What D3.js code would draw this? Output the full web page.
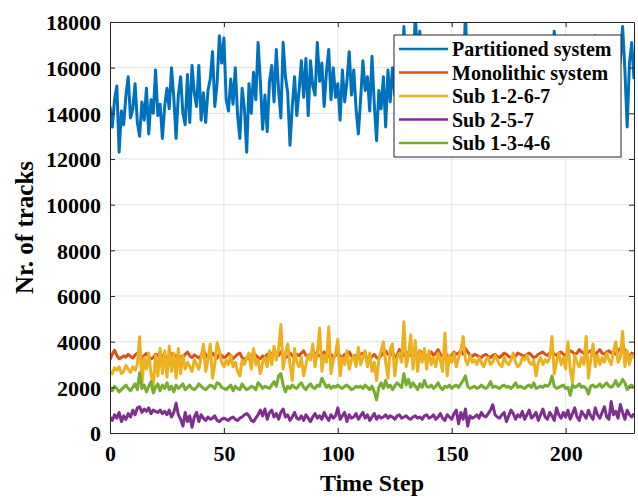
<!DOCTYPE html>
<html>
<head>
<meta charset="utf-8">
<script src="https://cdnjs.cloudflare.com/ajax/libs/d3/7.8.5/d3.min.js"></script>
<style>
  body { margin: 0; background: #fff; }
  text { font-family: "Liberation Serif", "Times New Roman", serif; font-weight: bold; fill: #000; }
</style>
</head>
<body>
<script>
// data, one value per time step (0..230)
var partitioned = [
  14300, 13400, 14600, 15200, 12300, 14100, 13500, 14800, 15600, 13800,
  14200, 15300, 13600, 13000, 14500, 13700, 15100, 13100, 14600, 14000,
  15900, 13900, 14400, 12900, 14300, 15100, 14200, 16000, 14700, 12900,
  14800, 15600, 14000, 13500, 15700, 13600, 16100, 14900, 14300, 16100,
  13700, 14900, 13600, 15000, 15500, 16700, 14300, 15300, 17400, 16200,
  17300, 14600, 14100, 15500, 14400, 16000, 13900, 12900, 15100, 14200,
  12300, 15300, 14000, 15800, 14600, 17100, 15400, 13300, 14800, 13200,
  15400, 16100, 14500, 16800, 15000, 13800, 17100, 15600, 14900, 12600,
  14300, 15600, 13900, 15000, 16300, 14700, 16400, 13900, 16300, 15200,
  14800, 17100, 15400, 16200, 14300, 15800, 16800, 14600, 16000, 14700,
  15300, 13700, 15900, 14500, 15400, 16700, 14800, 15900, 14200, 13100,
  14600, 16300, 15000, 15600, 14100, 16500, 14400, 12800, 15000, 14200,
  15600, 13400, 15900, 14500, 16000, 14800, 15400, 16200, 14700, 17800,
  15300, 16100, 14600, 15800, 18300, 16500, 17600, 14900, 15700, 16200,
  14800, 15900, 16600, 14700, 15300, 16400, 15000, 15800, 14400, 16300,
  15100, 16700, 14900, 15600, 16200, 15000, 18400, 15400, 16000, 14800,
  15900, 15200, 16500, 14700, 15800, 16100, 15000, 16400, 15300, 14900,
  16200, 15500, 14600, 16800, 15200, 15900, 14700, 16300, 15400, 16000,
  14900, 16600, 15100, 15700, 14500, 16200, 15600, 14800, 16500, 15300,
  15900, 14700, 16400, 15100, 16000, 17600, 15000, 15800, 14600, 16300,
  15400, 16100, 14900, 15600, 16700, 15200, 14800, 16400, 15500, 16000,
  14700, 16200, 15300, 17400, 15100, 15800, 14900, 16500, 15300, 16000,
  15200, 16400, 14800, 15700, 16300, 17800, 15900, 13400, 16200, 17100,
  15500
];
var monolithic = [
  3200, 3450, 3620, 3400, 3250, 3300, 3380, 3320, 3450, 3350,
  3280, 3420, 3500, 3350, 3250, 3400, 3480, 3320, 3250, 3300,
  3450, 3380, 3550, 3300, 3400, 3250, 3350, 3480, 3300, 3400,
  3250, 3350, 3300, 3450, 3550, 3380, 3300, 3420, 3350, 3280,
  3400, 3600, 3450, 3300, 3350, 3500, 3380, 3280, 3450, 3400,
  3300, 3350, 3480, 3400, 3250, 3350, 3450, 3500, 3300, 3200,
  3300, 3250, 3350, 3500, 3400, 3300, 3250, 3380, 3300, 3450,
  3350, 3450, 3600, 3500, 3400, 3550, 3450, 3300, 3350, 3500,
  3400, 3300, 3450, 3380, 3500, 3600, 3400, 3350, 3450, 3550,
  3500, 3420, 3380, 3450, 3550, 3400, 3350, 3450, 3300, 3400,
  3500, 3380, 3300, 3450, 3400, 3550, 3350, 3280, 3400, 3350,
  3450, 3500, 3380, 3300, 3200, 3350, 3450, 3300, 3250, 3400,
  3500, 3600, 3450, 3400, 3550, 3300, 3400, 3650, 3500, 3400,
  3550, 3450, 3400, 3500, 3380, 3450, 3600, 3500, 3400, 3350,
  3450, 3550, 3400, 3500, 3650, 3450, 3350, 3500, 3400, 3300,
  3400, 3550, 3450, 3500, 3600, 3450, 3700, 3550, 3400, 3350,
  3450, 3400, 3350, 3300, 3400, 3450, 3350, 3300, 3400, 3450,
  3350, 3300, 3400, 3500, 3450, 3350, 3300, 3400, 3350, 3500,
  3450, 3400, 3350, 3450, 3500, 3400, 3300, 3350, 3450, 3500,
  3550, 3450, 3400, 3500, 3600, 3450, 3400, 3500, 3550, 3450,
  3400, 3500, 3600, 3550, 3450, 3500, 3650, 3550, 3500, 3450,
  3550, 3600, 3500, 3450, 3550, 3650, 3500, 3450, 3550, 3600,
  3500, 3550, 3450, 3600, 3700, 3550, 3650, 3450, 3350, 3500,
  3450
];
var sub1267 = [
  2700, 2600, 2850, 2750, 2900, 2600, 2700, 2950, 2800, 2650,
  2900, 2750, 3000, 4220, 2100, 3300, 2800, 3500, 2600, 2050,
  3400, 2500, 3700, 2600, 3600, 2450, 3800, 2700, 3500, 2400,
  3700, 2600, 3400, 2800, 3100, 2900, 2700, 3200, 3000, 2800,
  3300, 3900, 2700, 3200, 3900, 2400, 3000, 3950, 3600, 3100,
  2900, 3200, 3000, 3400, 2900, 3100, 2700, 2500, 3200, 3000,
  3300, 3500, 2800, 3700, 3000, 3200, 2600, 3100, 3300, 2900,
  3600, 3000, 3800, 3200, 3700, 4750, 2800, 3500, 3900, 3000,
  2300, 3700, 3100, 2900, 3300, 2500, 3000, 3400, 3200, 3900,
  2900, 3500, 4600, 2700, 3400, 3100, 4650, 2600, 3200, 3500,
  4100, 2500, 3300, 3000, 3600, 2800, 3200, 3400, 2900, 3750,
  3000, 3300, 3600, 2900, 3500, 2700, 3100, 2300, 3200, 3600,
  4000, 3100, 2400, 3700, 3900, 2500, 3300, 3500, 3100, 4870,
  2900, 3400, 4300, 2800, 4050, 2700, 3600, 3100, 3700, 2800,
  3600, 3000, 3300, 2900, 3500, 3200, 2700, 4380, 2500, 3400,
  3100, 3500, 2900, 3300, 3600, 4230, 3200, 3000, 3400, 3100,
  3200, 3000, 3300, 3100, 2900, 3200, 3300, 3000, 3100, 3400,
  3200, 3000, 2900, 3300, 3100, 3000, 3200, 3500, 3100, 2900,
  3000, 3300, 3200, 3400, 3100, 3000, 3200, 2500, 3100, 3300,
  3000, 3200, 3100, 3300, 4230, 2600, 3100, 3500, 3000, 3300,
  2800, 4000, 2800, 2200, 3400, 3100, 2900, 3300, 3000, 4230,
  2400, 3200, 3900, 2900, 3400, 3000, 3300, 3100, 3500, 3200,
  3000, 3600, 4000, 3100, 3300, 4450, 2900, 3600, 3000, 3400,
  3300
];
var sub257 = [
  700, 550, 800, 650, 900, 500, 750, 600, 850, 700,
  1000, 800, 1100, 1150, 900, 1050, 950, 1100, 850, 1000,
  950, 900, 1000, 850, 950, 800, 1000, 700, 900, 1300,
  800, 600, 300, 900, 500, 750, 250, 700, 900, 500,
  800, 650, 550, 700, 600, 650, 750, 550, 500, 600,
  650, 600, 550, 650, 700, 600, 550, 650, 700, 800,
  850, 750, 550, 500, 650, 800, 1000, 750, 1050, 600,
  900, 1000, 700, 850, 600, 900, 1050, 700, 800, 550,
  700, 900, 650, 600, 750, 550, 800, 650, 500, 700,
  850, 650, 750, 600, 900, 700, 550, 800, 650, 750,
  1100, 600, 750, 900, 500, 800, 650, 700, 850, 600,
  750, 900, 650, 800, 550, 700, 850, 600, 750, 650,
  700, 800, 650, 750, 700, 600, 750, 800, 650, 700,
  750, 650, 600, 700, 750, 650, 700, 600, 750, 800,
  650, 700, 800, 600, 700, 850, 650, 550, 800, 700,
  600, 850, 1000, 400, 900, 600, 1050, 300, 750, 650,
  700, 800, 650, 900, 750, 700, 850, 1000, 1240, 800,
  700, 650, 800, 900, 500, 750, 1000, 850, 600, 800,
  700, 950, 600, 800, 1000, 650, 750, 900, 550, 800,
  1050, 700, 600, 900, 750, 550, 1100, 800, 650, 900,
  700, 1000, 600, 850, 1100, 700, 550, 950, 800, 650,
  1000, 750, 600, 1100, 800, 650, 900, 1150, 700, 600,
  1380, 800, 950, 650, 1250, 900, 600, 1000, 800, 700,
  850
];
var sub1346 = [
  1900, 1850, 2050, 1950, 1800, 1900, 2000, 2100, 1950, 1850,
  2000, 2150, 1900, 2630, 1950, 2100, 1800, 2050, 2250, 1750,
  2000, 2150, 1850, 2100, 1950, 2200, 1900, 2050, 1800, 2100,
  1950, 2050, 2150, 1900, 2000, 2100, 1950, 1900, 2000, 2150,
  2050, 1950, 1900, 2000, 2100, 2050, 1950, 2200, 2150, 2000,
  1950, 1900, 2000, 2100, 1850, 2050, 1950, 1900, 2150, 2000,
  1900, 1950, 2050, 2000, 1900, 2200, 2100, 1950, 2050, 2000,
  1950, 2100, 2250, 2050, 2500, 2600, 2100, 1800, 2050, 1950,
  2100, 2000, 1950, 2100, 2200, 2000, 1900, 2050, 2150, 2000,
  1950, 2100, 2050, 2400, 2200, 2000, 2100, 1950, 2050, 2000,
  2100, 2000, 1950, 2050, 2100, 2000, 1900, 1950, 2050, 2000,
  2050, 1950, 2100, 2000, 1900, 2050, 1800, 1450, 2000, 2200,
  1950, 2300, 2000, 2100, 1900, 2050, 2200, 2100, 2000, 2600,
  2100, 2350, 2000, 2200, 2050, 1900, 2150, 2000, 2300, 2050,
  2000, 2100, 1950, 2050, 2200, 2000, 1900, 2050, 2000, 2100,
  1950, 2050, 2100, 2000, 2150, 2300, 2500, 2050, 1950, 2000,
  2050, 1950, 2000, 2100, 2000, 1950, 2050, 2250, 2000, 2050,
  2000, 1950, 2050, 2100, 2000, 2050, 1950, 2050, 2200, 2000,
  2050, 2000, 1950, 2050, 2100, 2000, 2200, 1950, 2000, 2050,
  2000, 2100, 2050, 2150, 2500, 2050, 1950, 2000, 2050, 2100,
  1950, 2000, 1650, 2100, 2000, 2050, 2150, 2000, 2050, 1950,
  1700, 2050, 2100, 2000, 2050, 2150, 2000, 2100, 2200, 2050,
  2000, 2100, 2300, 2050, 2150, 2350, 2200, 1900, 2050, 2100,
  2000
];

var seriesNames = ["Partitioned system", "Monolithic system", "Sub 1-2-6-7", "Sub 2-5-7", "Sub 1-3-4-6"];
var seriesColors = ["#0072BD", "#D95319", "#EDB120", "#7E2F8E", "#77AC30"];
var seriesData = [partitioned, monolithic, sub1267, sub257, sub1346];
var xTicks = [0, 50, 100, 150, 200];
var yTicks = [0, 2000, 4000, 6000, 8000, 10000, 12000, 14000, 16000, 18000];

var margin = {top: 22, right: 4, bottom: 66, left: 110};
var width = 638 - margin.left - margin.right;
var height = 499 - margin.top - margin.bottom;
var serif = "'Liberation Serif', 'Times New Roman', serif";

var svg = d3.select("body").append("svg")
  .attr("width", 638)
  .attr("height", 499);

var g = svg.append("g")
  .attr("transform", "translate(" + margin.left + "," + margin.top + ")");

var x = d3.scaleLinear().domain([0, 230]).range([0, width]);
var y = d3.scaleLinear().domain([0, 18000]).range([height, 0]);

// grid
g.selectAll(".gx").data(xTicks.slice(1)).enter().append("line")
  .attr("x1", function(d) { return x(d); })
  .attr("x2", function(d) { return x(d); })
  .attr("y1", 0).attr("y2", height)
  .attr("stroke", "#e3e3e3").attr("stroke-width", 1);
g.selectAll(".gy").data(yTicks.slice(1, -1)).enter().append("line")
  .attr("x1", 0).attr("x2", width)
  .attr("y1", function(d) { return y(d); })
  .attr("y2", function(d) { return y(d); })
  .attr("stroke", "#e3e3e3").attr("stroke-width", 1);

g.append("clipPath").attr("id", "clip")
  .append("rect").attr("width", width).attr("height", height);

var line = d3.line()
  .x(function(d, i) { return x(i); })
  .y(function(d) { return y(d); });

g.append("g").attr("clip-path", "url(#clip)")
  .selectAll("path").data(seriesData).enter().append("path")
  .attr("d", function(d) { return line(d); })
  .attr("fill", "none")
  .attr("stroke", function(d, i) { return seriesColors[i]; })
  .attr("stroke-width", 3)
  .attr("stroke-linejoin", "round");

// axes (box with inward ticks on all sides)
function styleAxis(sel) {
  sel.attr("font-family", serif);
  sel.select(".domain").attr("stroke", "#262626");
  sel.selectAll(".tick line").attr("stroke", "#262626");
  sel.selectAll("text").attr("font-size", 22).attr("font-family", serif).attr("fill", "#1a1a1a");
}

var fmt = d3.format("d");
var xAxis = g.append("g").attr("transform", "translate(0," + height + ")")
  .call(d3.axisBottom(x).tickValues(xTicks).tickFormat(fmt).tickSizeInner(-5).tickSizeOuter(0).tickPadding(12));
styleAxis(xAxis);
var yAxis = g.append("g")
  .call(d3.axisLeft(y).tickValues(yTicks).tickFormat(fmt).tickSizeInner(-5).tickSizeOuter(0).tickPadding(9));
styleAxis(yAxis);
yAxis.selectAll("text").attr("dy", "0.36em");
var xTop = g.append("g")
  .call(d3.axisTop(x).tickValues(xTicks).tickSizeInner(-5).tickSizeOuter(0).tickFormat(""));
styleAxis(xTop);
var yRight = g.append("g").attr("transform", "translate(" + width + ",0)")
  .call(d3.axisRight(y).tickValues(yTicks).tickSizeInner(-5).tickSizeOuter(0).tickFormat(""));
styleAxis(yRight);

// axis titles
svg.append("text")
  .attr("x", margin.left + width / 2)
  .attr("y", 491)
  .attr("text-anchor", "middle")
  .attr("font-size", 24)
  .text("Time Step");
svg.append("text")
  .attr("transform", "translate(33," + (margin.top + height / 2) + ") rotate(-90)")
  .attr("text-anchor", "middle")
  .attr("font-size", 25)
  .text("Nr. of tracks");

// legend
var legend = svg.append("g").attr("transform", "translate(394,35)");
legend.append("rect")
  .attr("width", 227).attr("height", 122)
  .attr("fill", "#fff").attr("stroke", "#262626").attr("stroke-width", 1);
var items = legend.selectAll(".item").data(seriesNames).enter().append("g")
  .attr("transform", function(d, i) { return "translate(0," + (14 + i * 23.5) + ")"; });
items.append("line")
  .attr("x1", 5).attr("x2", 54)
  .attr("stroke", function(d, i) { return seriesColors[i]; })
  .attr("stroke-width", 2.6);
items.append("text")
  .attr("x", 58).attr("dy", "0.35em")
  .attr("font-size", 20)
  .text(function(d) { return d; });
</script>
</body>
</html>
